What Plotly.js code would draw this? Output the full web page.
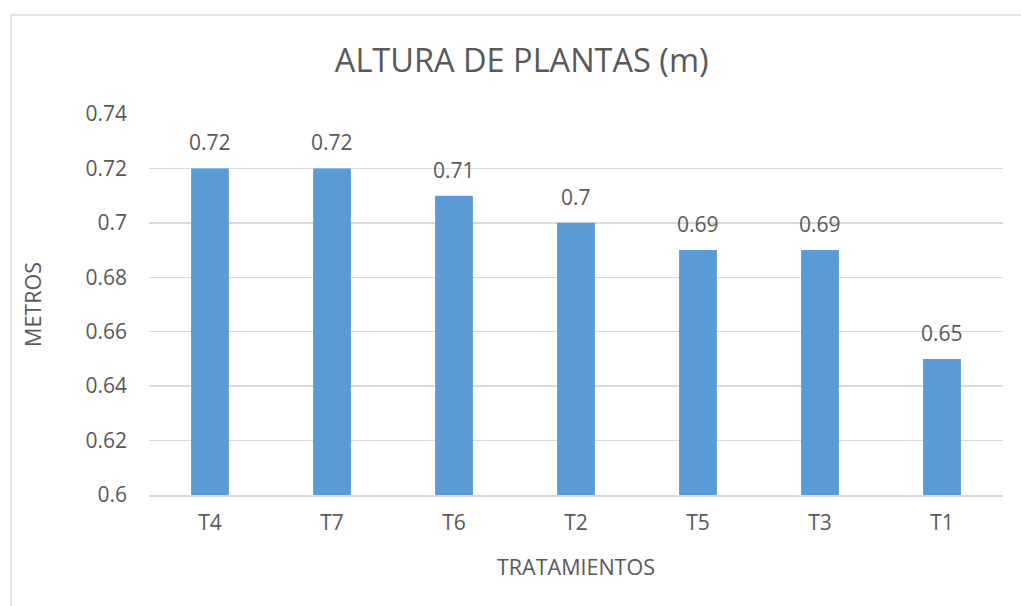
<!DOCTYPE html>
<html>
<head>
<meta charset="utf-8">
<script src="https://cdn.plot.ly/plotly-3.0.1.min.js"></script>
<style>html,body{margin:0;padding:0;background:#fff;}#chart{width:1021px;height:606px;}</style>
</head>
<body>
<div id="chart"></div>
<script>
const categories = ["T4", "T7", "T6", "T2", "T5", "T3", "T1"];
const values = [0.72, 0.72, 0.71, 0.70, 0.69, 0.69, 0.65];
const labels = ["0.72", "0.72", "0.71", "0.7", "0.69", "0.69", "0.65"];
const yTickVals = [0.6, 0.62, 0.64, 0.66, 0.68, 0.7, 0.72, 0.74];
const yTickText = ["0.6", "0.62", "0.64", "0.66", "0.68", "0.7", "0.72", "0.74"];

const font = "Open Sans, Liberation Sans, sans-serif";
const textColor = "#595959";

const trace = {
  type: "bar",
  x: categories,
  y: values,
  marker: {color: "#5B9BD5"},
  hoverinfo: "none"
};

const annotations = categories.map((c, i) => ({
  x: c, y: values[i], xref: "x", yref: "y",
  text: labels[i], showarrow: false,
  yanchor: "bottom", yshift: 10,
  font: {family: font, size: 21, color: textColor}
}));

const layout = {
  width: 1021, height: 606,
  margin: {l: 149, r: 18, t: 114, b: 111},
  paper_bgcolor: "#fff", plot_bgcolor: "#fff",
  bargap: 0.69,
  showlegend: false,
  title: {
    text: "ALTURA DE PLANTAS (m)",
    x: 0.511, xanchor: "center", y: 0.9, yanchor: "middle",
    font: {family: font, size: 32.5, color: textColor}
  },
  xaxis: {
    type: "category",
    tickfont: {family: font, size: 21, color: textColor},
    ticks: "", showgrid: false,
    showline: true, linecolor: "#d9d9d9", linewidth: 1.5,
    ticklabelstandoff: 8,
    title: {text: "TRATAMIENTOS", standoff: 25, font: {family: font, size: 21.5, color: textColor}}
  },
  yaxis: {
    range: [0.6, 0.74],
    tickvals: yTickVals, ticktext: yTickText,
    tickfont: {family: font, size: 21, color: textColor},
    ticks: "", ticklen: 0,
    showgrid: true, gridcolor: "#d9d9d9", gridwidth: 1.5,
    zeroline: false, showline: false,
    ticklabelstandoff: 21,
    title: {text: "METROS", standoff: 37, font: {family: font, size: 21.5, color: textColor}}
  },
  annotations: annotations,
  shapes: [
    {type: "line", xref: "paper", yref: "paper", x0: -0.1616, x1: 1.05, y0: 1.2598, y1: 1.2598, line: {color: "#d9d9d9", width: 1.5}},
    {type: "line", xref: "paper", yref: "paper", x0: -0.1616, x1: -0.1616, y0: 1.2598, y1: -0.35, line: {color: "#d9d9d9", width: 1.5}}
  ]
};

Plotly.newPlot("chart", [trace], layout, {displayModeBar: false, staticPlot: true});
</script>
</body>
</html>
